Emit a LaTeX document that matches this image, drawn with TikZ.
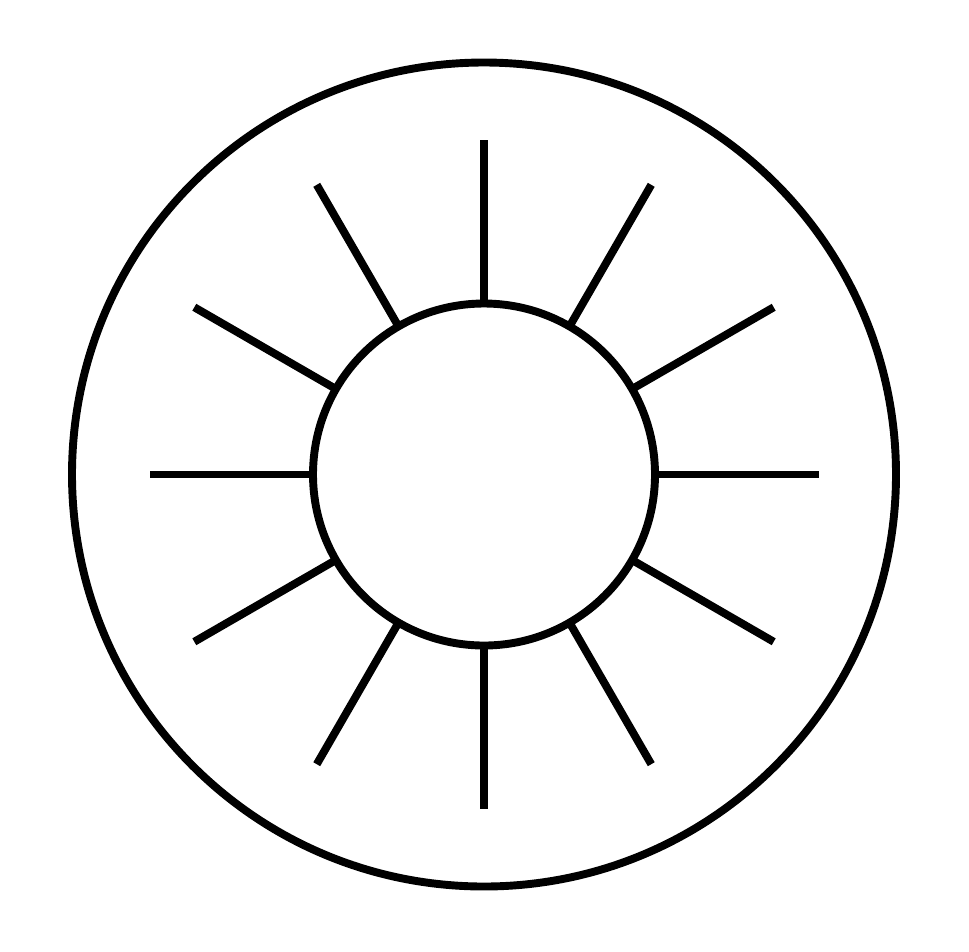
\documentclass[tikz,border=0pt]{standalone}
\usepackage{tikz}
\usetikzlibrary{calc}

\begin{document}
\begin{tikzpicture}[x=0.02cm,y=-0.02cm,
        rim/.style={line width=4.5pt},
        ray/.style={line width=4.5pt}]
        \useasboundingbox (0,0) rectangle (969,951);
        \coordinate (c) at (484,474.5);
        \draw[rim] (c) circle (412);
        \draw[rim] (c) circle (171);
        \foreach \a in {0,30,...,330}
            \draw[ray] ($(c)+(\a:171)$) -- ($(c)+(\a:334.5)$);
    \end{tikzpicture}
\end{document}
